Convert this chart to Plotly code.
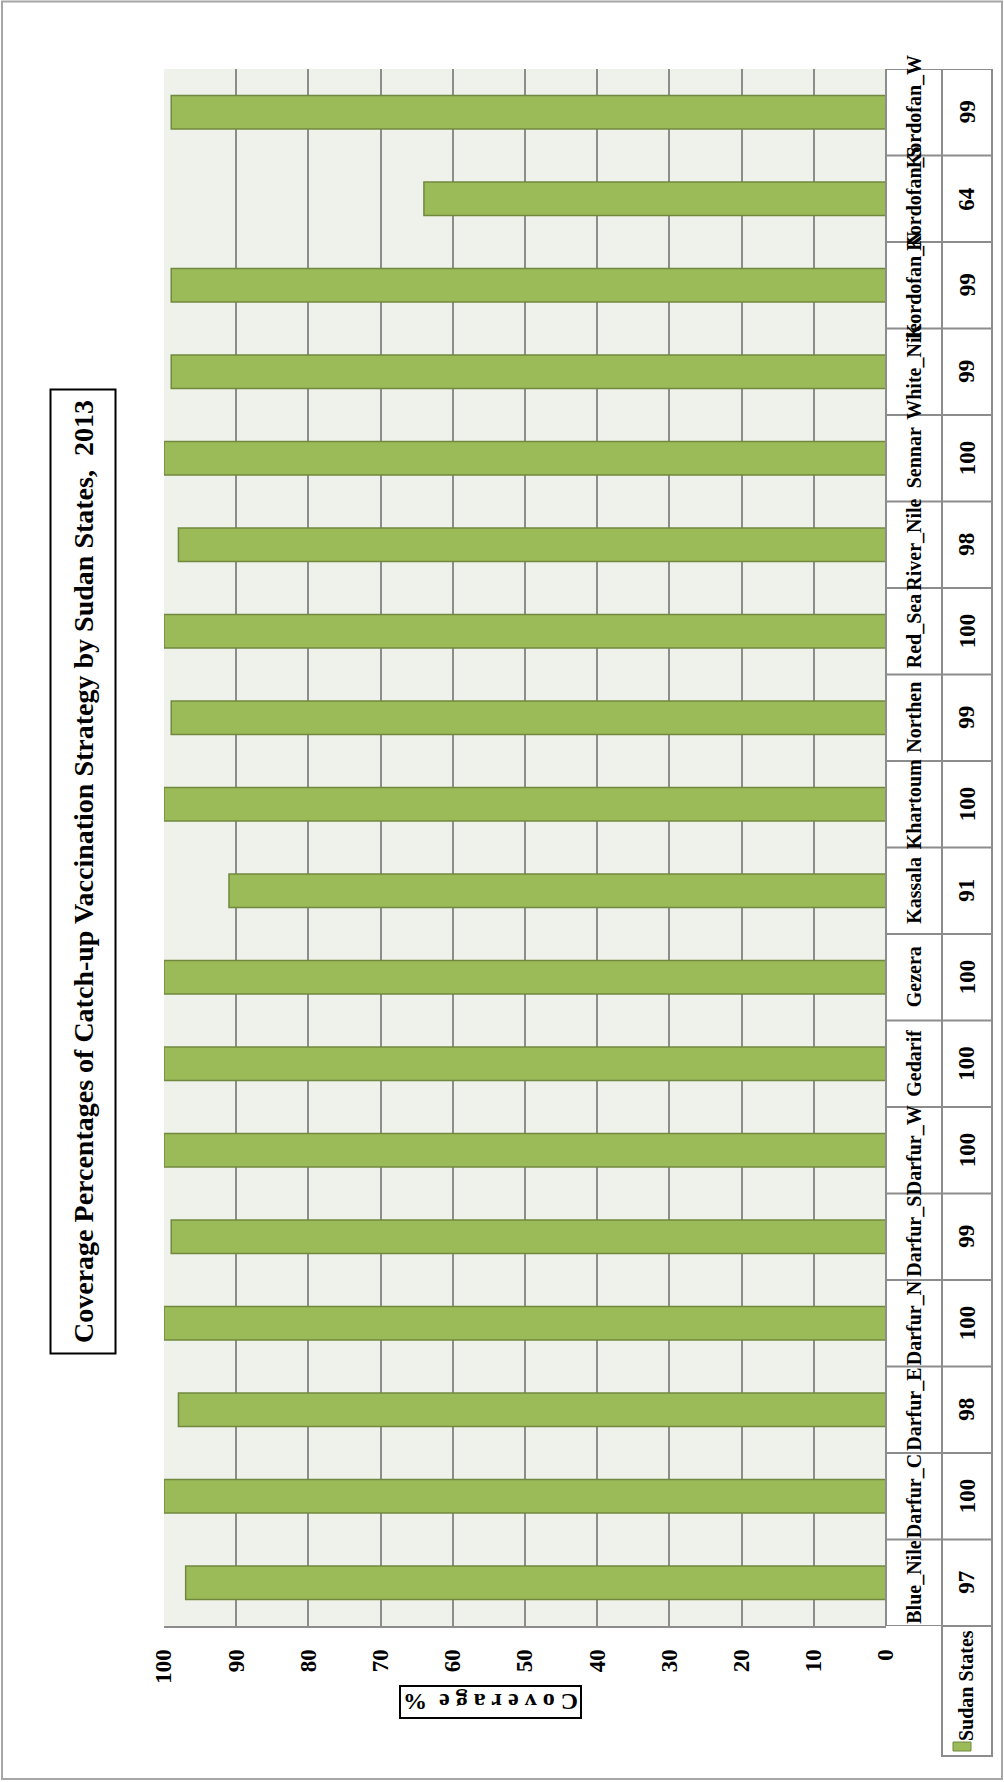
import plotly.graph_objects as go

# Catch-up vaccination coverage (%) by Sudan state, 2013
states = ["Blue_Nile", "Darfur_C", "Darfur_E", "Darfur_N", "Darfur_S", "Darfur_W",
          "Gedarif", "Gezera", "Kassala", "Khartoum", "Northen", "Red_Sea",
          "River_Nile", "Sennar", "White_Nile", "Kordofan_N", "Kordofan_S", "Kordofan_W"]
coverage = [97, 100, 98, 100, 99, 100, 100, 100, 91, 100, 99, 100, 98, 100, 99, 99, 64, 99]
value_ticks = [0, 10, 20, 30, 40, 50, 60, 70, 80, 90, 100]
series_name = "Sudan States"
chart_title = "Coverage Percentages of Catch-up Vaccination Strategy by Sudan States,  2013"
axis_title = "C o v e r a g e  %"

FONT = "Liberation Serif"
BAR = "#9BBB59"
BAR_EDGE = "#71893F"
GRID = "#8C8C8C"

W, H = 1004, 1782
L, R, T, B = 164, 118, 69, 156
PW, PH = W - L - R, H - T - B


def px_x(p):
    return (p - L) / PW


def px_y(p):
    return (H - B - p) / PH


def label(x, y, text, size, angle, xref="paper", yref="paper", **kw):
    return dict(x=x, y=y, xref=xref, yref=yref, text=f"<b>{text}</b>",
                textangle=angle, showarrow=False,
                xanchor="center", yanchor="middle",
                font=dict(family=FONT, size=size, color="black"), **kw)


fig = go.Figure(go.Bar(
    y=states, x=coverage, orientation="h", name=series_name,
    marker=dict(color=BAR, line=dict(color=BAR_EDGE, width=1.5)),
    showlegend=False,
))

# data-table columns (right of the plot)
c0, c1, c2 = 1.0, px_x(942), px_x(992)
shapes = []
n = len(states)
for xv in (c0, c1, c2):
    shapes.append(dict(type="line", xref="paper", yref="y", x0=xv, x1=xv,
                       y0=-0.5, y1=n - 0.5, line=dict(color=GRID, width=2)))
for k in range(n + 1):
    shapes.append(dict(type="line", xref="paper", yref="y", x0=c0, x1=c2,
                       y0=k - 0.5, y1=k - 0.5, line=dict(color=GRID, width=2)))
# legend cell under the value column
shapes.append(dict(type="rect", xref="paper", yref="paper", x0=c1, x1=c2,
                   y0=px_y(1756), y1=0, line=dict(color=GRID, width=2),
                   fillcolor="rgba(0,0,0,0)"))
shapes.append(dict(type="rect", xref="paper", yref="paper",
                   x0=px_x(953), x1=px_x(971), y0=px_y(1751), y1=px_y(1742),
                   line=dict(color=BAR_EDGE, width=1), fillcolor=BAR))
# outer chart border
shapes.append(dict(type="rect", xref="paper", yref="paper",
                   x0=px_x(2), x1=px_x(1002), y0=px_y(1779), y1=px_y(1.5),
                   line=dict(color="#A6A6A6", width=2), fillcolor="rgba(0,0,0,0)",
                   layer="below"))

annotations = []
for s, v in zip(states, coverage):
    annotations.append(label((c0 + c1) / 2, s, s, 20, -90, yref="y"))
    annotations.append(label((c1 + c2) / 2, s, v, 23, -90, yref="y"))

annotations.append(label(px_x(966), px_y(1686), series_name, 20, -90))

annotations.append(label(px_x(83.5), px_y(872), chart_title, 28, -90,
                         width=962, height=63, borderpad=0,
                         bordercolor="black", borderwidth=2))

annotations.append(label(px_x(491), px_y(1702), axis_title, 24, 180,
                         borderpad=2, bordercolor="black", borderwidth=2))

fig.update_layout(
    width=W, height=H,
    margin=dict(l=L, r=R, t=T, b=B, pad=0),
    paper_bgcolor="white",
    plot_bgcolor="#EFF2EA",
    bargap=0.615,
    shapes=shapes,
    annotations=annotations,
    xaxis=dict(range=[100, 0], tickvals=value_ticks, tickangle=-90,
               showgrid=True, gridcolor=GRID, gridwidth=2,
               showline=True, linecolor=GRID, linewidth=2,
               zeroline=False, ticks="", ticklabelstandoff=12,
               tickfont=dict(family=FONT, size=23, color="black", weight="bold")),
    yaxis=dict(showticklabels=False, showgrid=False, zeroline=False,
               showline=False, ticks="", range=[-0.5, n - 0.5]),
)

fig.write_html("out.html")
